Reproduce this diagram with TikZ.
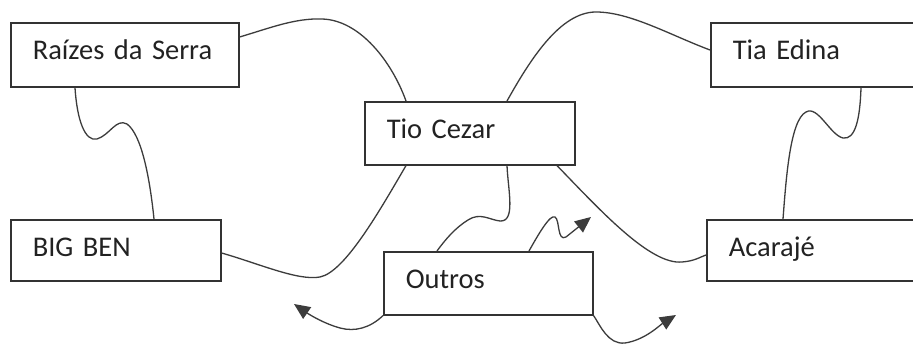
\documentclass[tikz,border=0pt]{standalone}
\usepackage{fontspec}
\setmainfont{Carlito}
\usetikzlibrary{calc,arrows.meta}
\definecolor{boxline}{HTML}{333333}
\definecolor{curve}{HTML}{3C3C3C}
\definecolor{txt}{HTML}{222222}
\tikzset{
  box/.style={draw=boxline, line width=1.6pt, fill=white, anchor=north west,
    inner xsep=22pt, inner ysep=0pt, text height=37pt, align=left,
    font=\fontsize{28.5}{30}\selectfont, text=txt},
  link/.style={draw=curve, line width=1.3pt},
  arr/.style={link, -{Triangle[length=16pt,width=14pt]}}
}
\begin{document}
\begin{tikzpicture}[x=1pt,y=-1pt]
\useasboundingbox[fill=white] (0,0) rectangle (913,344);
\clip (0,0) rectangle (913,344);
% boxes
\node[box, text width=184pt, text depth=27pt] (rs) at (10,22) {Raízes da Serra};
\node[box, text width=166pt, text depth=24pt] (bb) at (10,219) {BIG BEN};
\node[box, text width=166pt, text depth=26pt] (tc) at (364,101) {Tio Cezar};
\node[box, text width=165pt, text depth=26pt] (ou) at (383,251) {Outros};
\node[box, text width=216pt, text depth=27pt] (te) at (710,22) {Tia Edina};
\node[box, text width=216pt, text depth=24pt] (ac) at (706,219) {Acarajé};
% free ends
\coordinate (a1) at (591,217);
\coordinate (a2) at (294,304);
\coordinate (a3) at (676,315);
% connectors
\draw[link] ($(rs.north east)+(0,15)$) .. controls (270,28) and (295,18) .. (322,19)
   .. controls (360,20) and (392,62) .. ($(tc.north west)+(42,0)$);
\draw[link] ($(rs.south west)+(65,0)$) .. controls (77,120) and (85,142) .. (97,139)
   .. controls (110,135) and (116,118) .. (127,124)
   .. controls (142,135) and (150,180) .. ($(bb.north west)+(144,0)$);
\draw[link] ($(bb.north east)+(0,34)$) .. controls (260,264) and (298,281) .. (320,277)
   .. controls (345,272) and (380,210) .. ($(tc.south west)+(42,0)$);
\draw[link] ($(tc.north west)+(143,0)$) .. controls (530,60) and (560,12) .. (596,12)
   .. controls (630,12) and (670,35) .. ($(te.north west)+(0,28)$);
\draw[link] ($(te.south west)+(151,0)$) .. controls (860,120) and (855,140) .. (843,138)
   .. controls (830,135) and (818,105) .. (806,112)
   .. controls (790,120) and (786,180) .. ($(ac.north west)+(77,0)$);
\draw[link] ($(tc.south west)+(193,0)$) .. controls (600,210) and (650,265) .. (682,262)
   .. controls (695,261) and (700,257) .. ($(ac.north west)+(0,36)$);
\draw[link] ($(tc.south west)+(143,0)$) .. controls (508,190) and (516,222) .. (500,221)
   .. controls (490,220) and (480,212) .. (468,220)
   .. controls (455,228) and (445,240) .. ($(ou.north west)+(54,0)$);
\draw[arr] ($(ou.north west)+(146,0)$) .. controls (538,235) and (550,214) .. (555,217)
   .. controls (560,220) and (557,242) .. (566,237) -- (a1);
\draw[arr] (ou.south west) .. controls (370,328) and (355,332) .. (340,328)
   .. controls (325,324) and (310,315) .. (a2);
\draw[arr] (ou.south east) .. controls (600,325) and (608,345) .. (625,343)
   .. controls (645,340) and (660,325) .. (a3);
\end{tikzpicture}
\end{document}
